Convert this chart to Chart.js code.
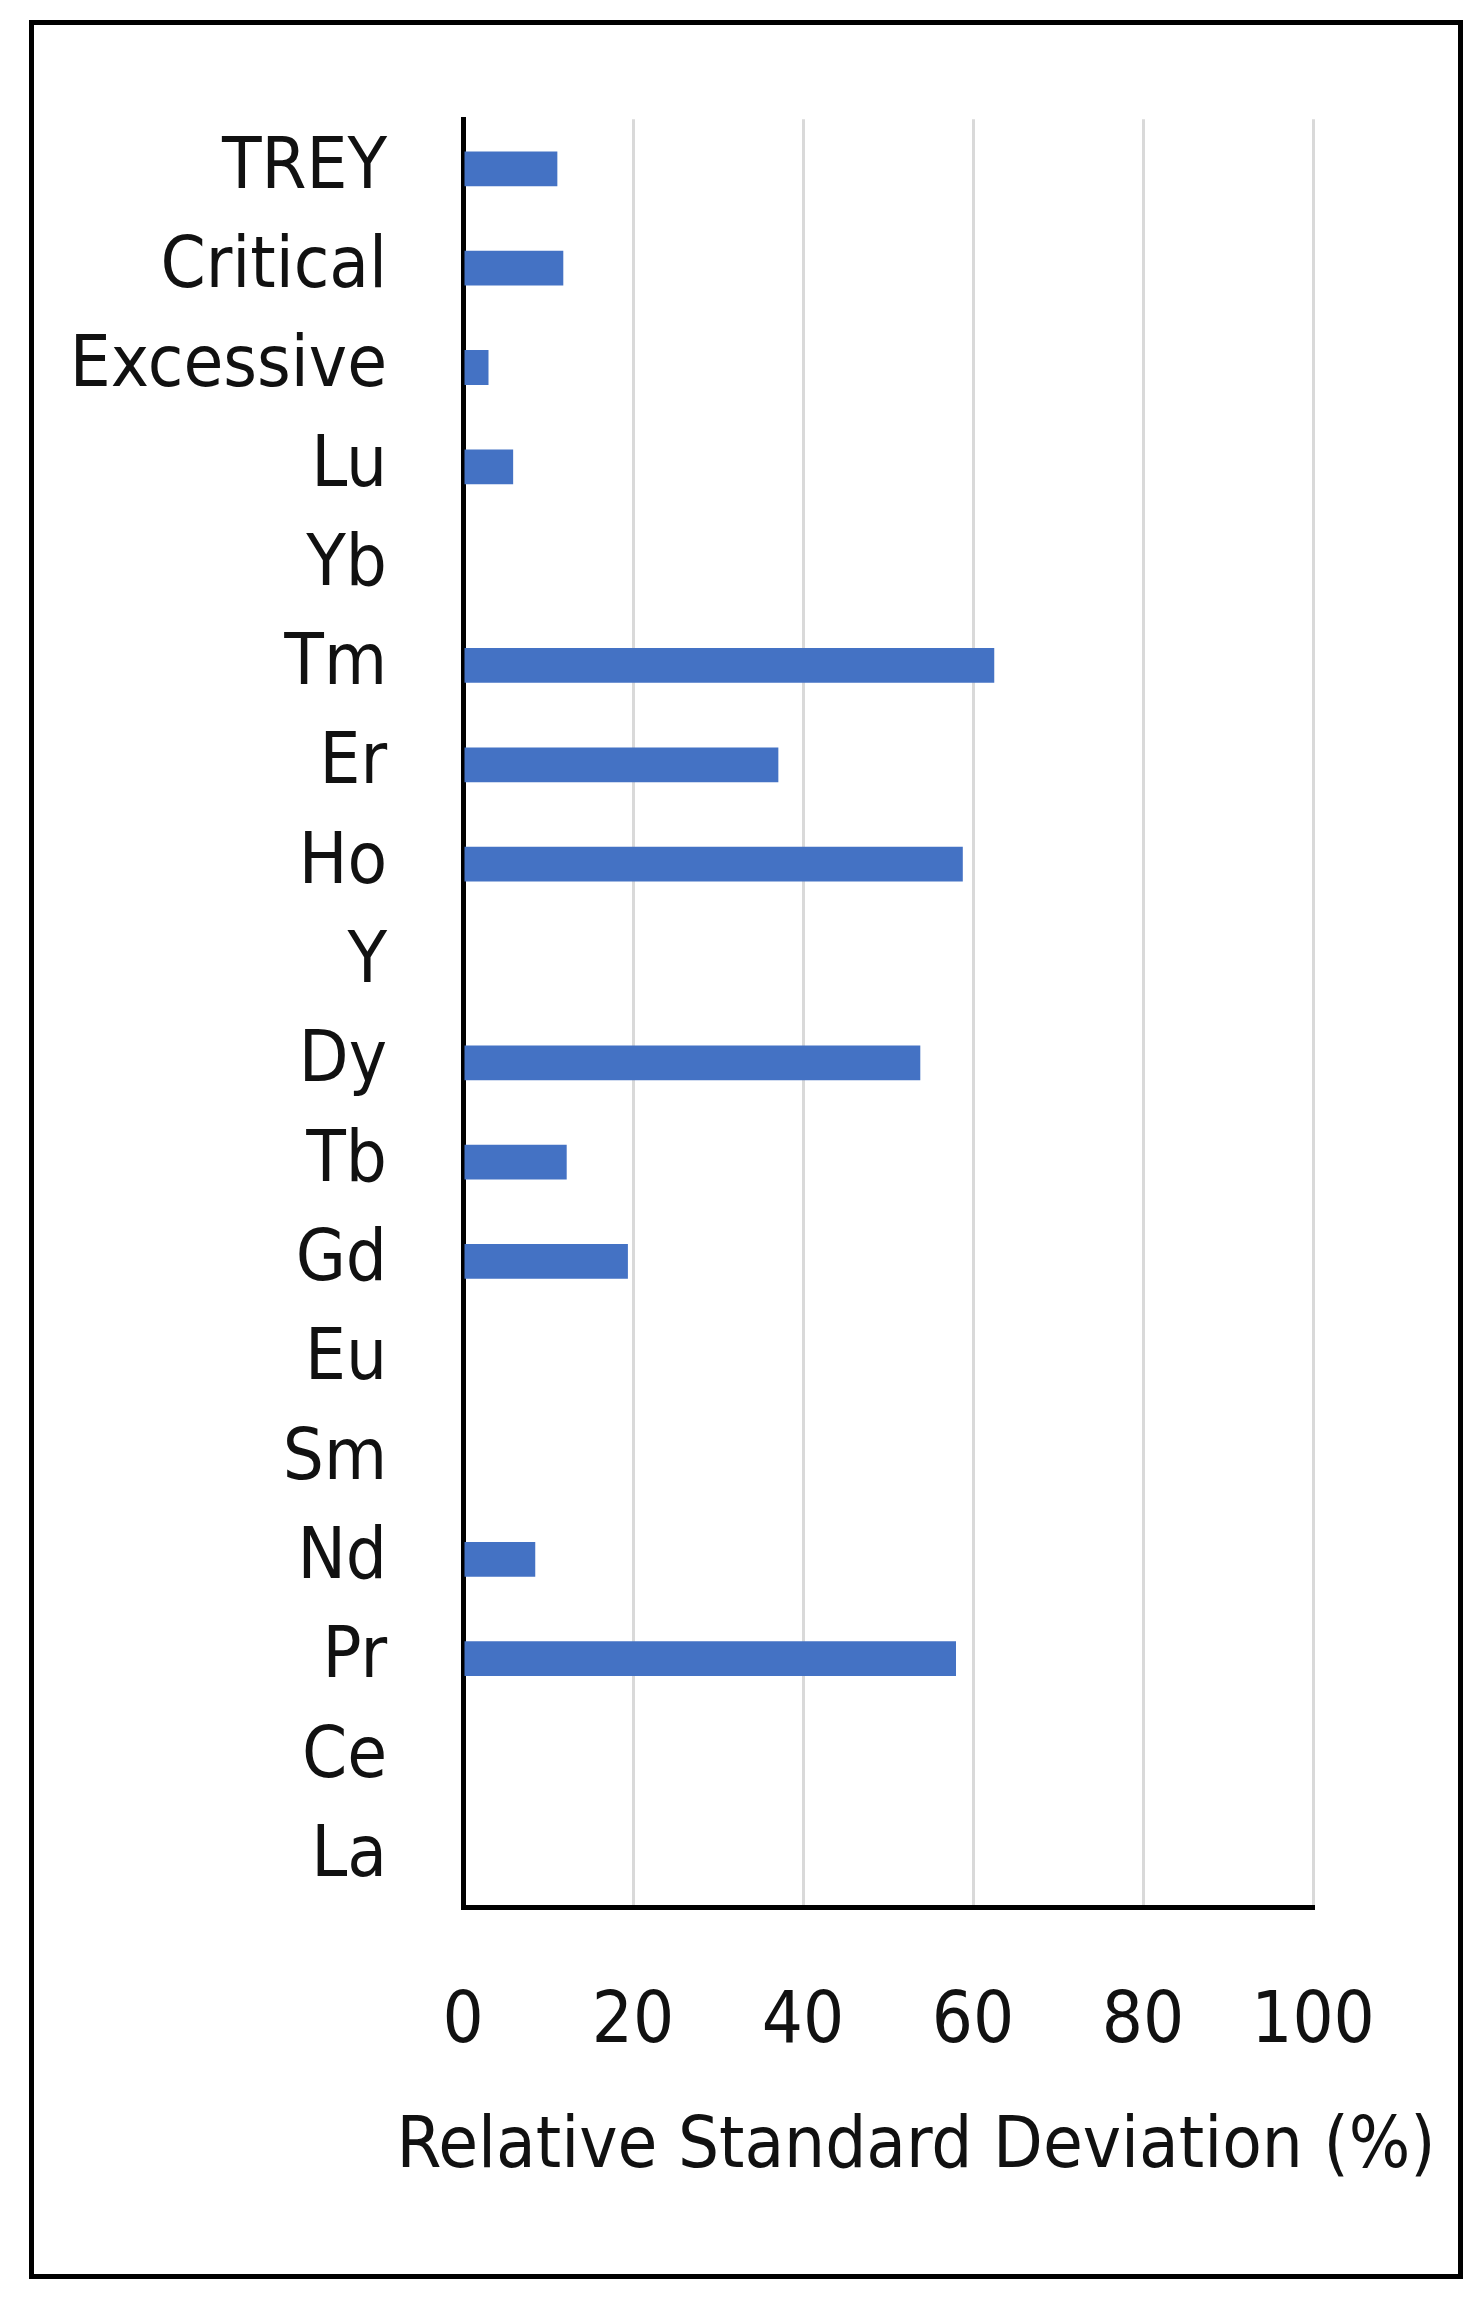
<!DOCTYPE html>
<html>
<head>
<meta charset="utf-8">
<script src="https://cdn.jsdelivr.net/npm/chart.js@4.4.1/dist/chart.umd.min.js"></script>
<style>
  html, body { margin: 0; padding: 0; background: #fff; }
  #wrap { position: relative; width: 1484px; height: 2300px; }
  #frame {
    position: absolute; left: 29px; top: 20px; width: 1434px; height: 2259px;
    border: 5px solid #000; box-sizing: border-box; pointer-events: none;
  }
  canvas { position: absolute; left: 0; top: 0; }
</style>
</head>
<body>
<div id="wrap">
  <canvas id="rsdChart" width="1484" height="2300"></canvas>
  <div id="frame"></div>
</div>
<script>
const categories = ['TREY', 'Critical', 'Excessive', 'Lu', 'Yb', 'Tm', 'Er', 'Ho', 'Y',
    'Dy', 'Tb', 'Gd', 'Eu', 'Sm', 'Nd', 'Pr', 'Ce', 'La'];
const rsdValues = [11.1, 11.8, 3.0, 5.9, 0, 62.5, 37.1, 58.8, 0,
    53.8, 12.2, 19.4, 0, 0, 8.5, 58.0, 0, 0];
const xTicks = [0, 20, 40, 60, 80, 100];
const xTitle = 'Relative Standard Deviation (%)';

const fontFamily = "'Liberation Sans Narrow', 'DejaVu Sans Condensed', 'Open Sans', sans-serif";
const labelFont = { family: fontFamily, size: 72, lineHeight: 1.2 };

// the axis title in the original runs wider than the plot, so it is drawn here
// instead of through scale.title (which squeezes it to the plot width)
const xTitlePlugin = {
    id: 'xTitle',
    afterDraw(chart) {
        const { ctx, chartArea } = chart;
        ctx.save();
        ctx.font = labelFont.size + 'px ' + fontFamily;
        ctx.fillStyle = '#111';
        ctx.textAlign = 'center';
        ctx.textBaseline = 'middle';
        ctx.fillText(xTitle, (chartArea.left + chartArea.right) / 2 + 28, chartArea.bottom + 241);
        ctx.restore();
    }
};

const rsdChart = new Chart(document.getElementById('rsdChart').getContext('2d'), {
    type: 'bar',
    data: {
        labels: categories,
        datasets: [{
            data: rsdValues,
            backgroundColor: '#4472C4',
            borderWidth: 0,
            barPercentage: 0.35,
            categoryPercentage: 1
        }]
    },
    plugins: [xTitlePlugin],
    options: {
        indexAxis: 'y',
        responsive: false,
        animation: false,
        devicePixelRatio: 1,
        layout: {
            padding: { left: 0, top: 118, right: 171, bottom: 0 }
        },
        plugins: {
            legend: { display: false },
            tooltip: { enabled: false }
        },
        scales: {
            x: {
                min: 0,
                max: 100,
                afterBuildTicks: (scale) => {
                    scale.ticks = xTicks.map(v => ({ value: v }));
                },
                afterFit: (scale) => {
                    scale.height = 2300 - 1907;
                },
                grid: {
                    color: '#d9d9d9',
                    lineWidth: 3,
                    drawTicks: false
                },
                border: { color: '#000', width: 5 },
                ticks: {
                    color: '#111',
                    font: labelFont,
                    padding: 73,
                    maxRotation: 0
                },
                title: { display: false, text: xTitle }
            },
            y: {
                afterFit: (scale) => {
                    scale.width = 463;
                },
                grid: { display: false, drawTicks: false },
                border: { color: '#000', width: 5 },
                ticks: {
                    color: '#111',
                    font: labelFont,
                    padding: 76,
                    autoSkip: false
                }
            }
        }
    }
});
</script>
</body>
</html>
